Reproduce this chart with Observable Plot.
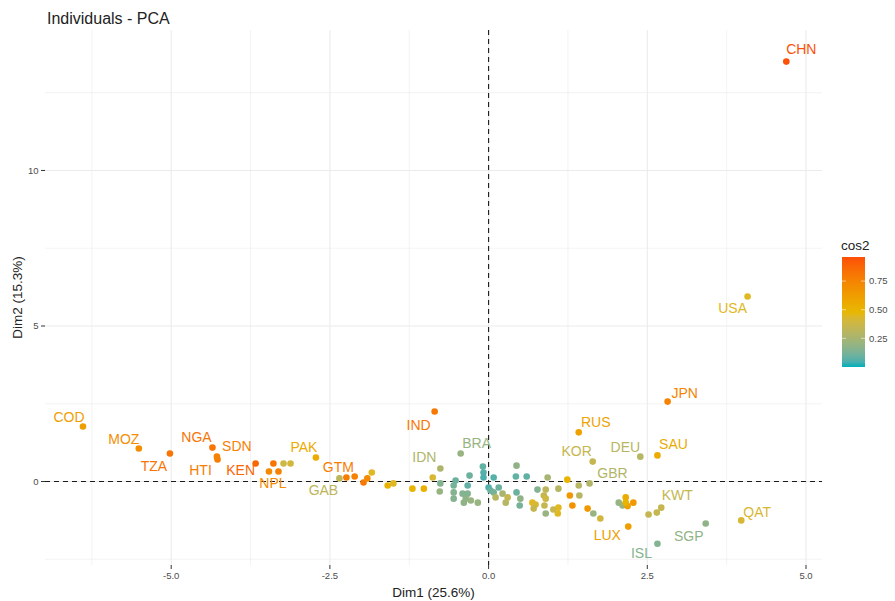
<!DOCTYPE html>
<html><head><meta charset="utf-8">
<script src="https://cdn.jsdelivr.net/npm/d3@7"></script>
<script src="https://cdn.jsdelivr.net/npm/@observablehq/plot@0.6"></script>
<style>body{margin:0;background:#fff;font-family:"Liberation Sans",Arial,sans-serif}</style>
</head><body><div id="chart"></div>
<script>
// ---- data ----
const labeledCodes = ["CHN","USA","JPN","SAU","DEU","RUS","KOR","GBR","QAT","SGP","ISL","LUX","KWT","IND","BRA","IDN","GTM","GAB","PAK","NPL","KEN","HTI","SDN","NGA","TZA","MOZ","COD"];
const labeledDim1 = [4.69,4.08,2.82,2.66,2.39,1.42,1.64,1.59,3.98,3.42,2.66,2.20,2.72,-0.85,-0.44,-0.76,-2.24,-2.35,-2.72,-3.46,-3.67,-4.27,-4.28,-4.35,-5.02,-5.51,-6.39];
const labeledDim2 = [13.50,5.95,2.57,0.84,0.80,1.58,0.64,-0.06,-1.25,-1.35,-2.00,-1.45,-0.84,2.25,0.90,0.42,0.13,0.10,0.77,0.32,0.58,0.71,0.80,1.09,0.90,1.06,1.77];
const labeledCos2 = [0.95,0.45,0.75,0.55,0.30,0.60,0.35,0.28,0.42,0.18,0.15,0.62,0.35,0.80,0.20,0.27,0.78,0.32,0.55,0.72,0.88,0.78,0.76,0.82,0.82,0.70,0.62];

const otherDim1 = [-3.39,-3.31,-3.23,-3.12,-2.11,-1.97,-1.91,-1.84,-1.59,-1.50,-1.20,-1.02,-0.88,-0.77,-0.55,-0.55,-0.09,-0.08,-0.30,-0.52,-0.08,0.08,0.44,0.43,0.60,0.93,1.24,1.42,-0.76,-0.33,-0.55,-0.33,-0.41,-0.36,-0.39,-0.17,-0.28,0.00,0.03,0.08,0.16,0.11,0.22,0.30,0.27,0.44,0.50,0.49,0.77,0.90,0.87,0.69,0.74,0.71,0.90,0.88,0.90,1.02,1.10,1.09,1.10,1.28,1.43,1.32,1.56,1.65,1.76,2.05,2.16,2.11,2.19,2.28,2.16,2.52,2.65];
const otherDim2 = [0.58,0.32,0.58,0.58,0.16,-0.03,0.10,0.29,-0.13,-0.06,-0.23,-0.23,0.13,-0.32,-0.13,-0.55,0.48,0.29,0.19,0.03,0.13,0.13,0.51,0.16,0.16,0.13,0.06,-0.13,-0.06,-0.13,-0.35,-0.39,-0.39,-0.55,-0.68,-0.68,-0.61,-0.19,-0.29,-0.35,-0.19,-0.51,-0.39,-0.51,-0.68,-0.35,-0.55,-0.77,-0.26,-0.26,-0.45,-0.68,-0.74,-0.87,-0.55,-0.77,-1.03,-0.90,-0.84,-1.03,-0.23,-0.45,-0.45,-0.77,-0.87,-1.03,-1.19,-0.68,-0.51,-0.77,-0.79,-0.68,-0.68,-1.06,-1.00];
const otherCos2 = [0.82,0.76,0.38,0.40,0.75,0.80,0.72,0.45,0.52,0.45,0.50,0.52,0.42,0.20,0.12,0.15,0.08,0.06,0.10,0.10,0.05,0.06,0.18,0.08,0.08,0.25,0.50,0.30,0.15,0.08,0.15,0.15,0.15,0.18,0.18,0.20,0.20,0.05,0.10,0.12,0.10,0.30,0.25,0.35,0.30,0.10,0.18,0.12,0.15,0.32,0.35,0.45,0.42,0.35,0.38,0.35,0.20,0.35,0.45,0.45,0.30,0.65,0.30,0.68,0.65,0.20,0.40,0.20,0.55,0.20,0.62,0.65,0.50,0.35,0.35];

const xTicks = [-5, -2.5, 0, 2.5, 5];
const xMinor = [-6.25, -3.75, -1.25, 1.25, 3.75];
const yTicks = [0, 5, 10];
const yMinor = [-2.5, 2.5, 7.5, 12.5];
const legendTicks = [0.25, 0.5, 0.75];
const cos2Domain = [0.0, 0.48, 0.96];
const cos2Colors = ["#00AFBB", "#E7B800", "#FC4E07"];
const titleText = "Individuals - PCA";
const xTitle = "Dim1 (25.6%)";
const yTitle = "Dim2 (15.3%)";
const legendTitle = "cos2";

// ---- layout (label nudges in px, like ggrepel) ----
const labelNudge = {CHN:[15,-12],USA:[-15,12],JPN:[17,-8],SAU:[16,-11],DEU:[-15,-9],RUS:[17,-10],KOR:[-16,-10],GBR:[23,-10],QAT:[16,-8],SGP:[-17,13],ISL:[-16,10],LUX:[-21,9],KWT:[16,-12],IND:[-16,14],BRA:[16,-10],IDN:[-16,-11],GTM:[-8,-10],GAB:[-16,12],PAK:[-12,-10],NPL:[4,12],KEN:[-15,7],HTI:[-17,11],SDN:[20,-10],NGA:[-16,-10],TZA:[-16,13],MOZ:[-15,-9],COD:[-14,-9]};

const labeled = labeledCodes.map((c, i) => ({code: c, dim1: labeledDim1[i], dim2: labeledDim2[i], cos2: labeledCos2[i]}));
const others = otherDim1.map((x, i) => ({dim1: x, dim2: otherDim2[i], cos2: otherCos2[i]}));
const allPoints = others.concat(labeled);

const W = 895, H = 601, mL = 45, mR = 73, mT = 30, mB = 36;
const gridColor = "#ebebeb";
const font = "Liberation Sans, Arial, sans-serif";

const plot = Plot.plot({
  width: W, height: H,
  marginLeft: mL, marginRight: mR, marginTop: mT, marginBottom: mB,
  style: {fontFamily: font, background: "#fff", overflow: "visible"},
  x: {domain: [-6.98, 5.26]},
  y: {domain: [-2.7, 14.5]},
  color: {type: "linear", domain: cos2Domain, range: cos2Colors, interpolate: "lab"},
  marks: [
    Plot.gridX(xMinor, {stroke: gridColor, strokeOpacity: 1, strokeWidth: 0.6}),
    Plot.gridY(yMinor, {stroke: gridColor, strokeOpacity: 1, strokeWidth: 0.6}),
    Plot.gridX(xTicks, {stroke: gridColor, strokeOpacity: 1, strokeWidth: 1.1}),
    Plot.gridY(yTicks, {stroke: gridColor, strokeOpacity: 1, strokeWidth: 1.1}),
    Plot.axisX(xTicks, {tickSize: 4, tickPadding: 3, fontSize: 9.5, color: "#4d4d4d", stroke: "#333", tickFormat: d => d.toFixed(1), label: null}),
    Plot.axisY(yTicks, {tickSize: 4, tickPadding: 3, fontSize: 9.5, color: "#4d4d4d", stroke: "#333", tickFormat: d => String(d), label: null}),
    Plot.ruleX([0], {stroke: "#1a1a1a", strokeWidth: 1.1, strokeDasharray: "5,4"}),
    Plot.ruleY([0], {stroke: "#1a1a1a", strokeWidth: 1.1, strokeDasharray: "5,4"}),
    Plot.dot(allPoints, {x: "dim1", y: "dim2", fill: "cos2", r: 3.3, stroke: "none"}),
    ...labeled.map(d => Plot.text([d], {x: "dim1", y: "dim2", text: "code", fill: "cos2", fontSize: 14, dx: labelNudge[d.code][0], dy: labelNudge[d.code][1]}))
  ]
});

const svg = d3.select(plot);
// titles
svg.append("text").attr("x", 47).attr("y", 24).attr("text-anchor", "start").attr("font-family", font).attr("font-size", 16).attr("fill", "#222").text(titleText);
svg.append("text").attr("x", (mL + W - mR) / 2).attr("y", 597).attr("text-anchor", "middle").attr("font-family", font).attr("font-size", 13.5).attr("fill", "#222").text(xTitle);
svg.append("text").attr("transform", `translate(22,${(mT + H - mB) / 2}) rotate(-90)`).attr("text-anchor", "middle").attr("font-family", font).attr("font-size", 13.5).attr("fill", "#222").text(yTitle);

// ---- vertical colour bar legend ----
const cscale = plot.scale("color");
const colorOf = v => (cscale && cscale.apply) ? cscale.apply(v) :
  d3.scaleLinear().domain(cos2Domain).range(cos2Colors).interpolate(d3.interpolateLab)(v);
const lx = 842, lw = 23, ly0 = 257, ly1 = 367;
const defs = svg.append("defs");
const grad = defs.append("linearGradient").attr("id", "cos2grad").attr("x1", 0).attr("y1", 1).attr("x2", 0).attr("y2", 0);
d3.range(0, 1.0001, 0.05).forEach(t => {
  const v = cos2Domain[0] + t * (cos2Domain[2] - cos2Domain[0]);
  grad.append("stop").attr("offset", t).attr("stop-color", colorOf(v));
});
const lg = svg.append("g").attr("font-family", font).attr("text-anchor", "start");
lg.append("text").attr("x", lx - 1).attr("y", 250).attr("font-size", 13.5).attr("fill", "#222").text(legendTitle);
lg.append("rect").attr("x", lx).attr("y", ly0).attr("width", lw).attr("height", ly1 - ly0).attr("fill", "url(#cos2grad)");
const ly = v => ly1 - (v - cos2Domain[0]) / (cos2Domain[2] - cos2Domain[0]) * (ly1 - ly0);
legendTicks.forEach(v => {
  lg.append("line").attr("x1", lx).attr("x2", lx + 4).attr("y1", ly(v)).attr("y2", ly(v)).attr("stroke", "#fff").attr("stroke-opacity", 0.7).attr("stroke-width", 0.8);
  lg.append("line").attr("x1", lx + lw - 4).attr("x2", lx + lw).attr("y1", ly(v)).attr("y2", ly(v)).attr("stroke", "#fff").attr("stroke-opacity", 0.7).attr("stroke-width", 0.8);
  lg.append("text").attr("x", lx + lw + 4).attr("y", ly(v)).attr("dy", "0.35em").attr("font-size", 9.5).attr("fill", "#4d4d4d").text(v.toFixed(2));
});

document.getElementById("chart").appendChild(plot);
</script>
</body></html>
